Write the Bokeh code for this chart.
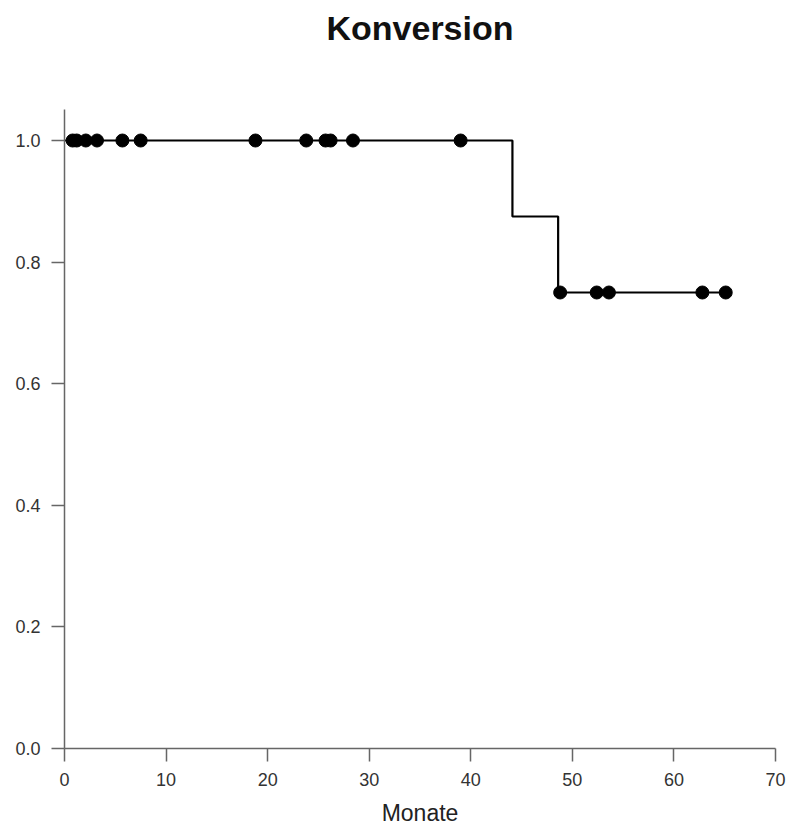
from bokeh.plotting import figure
from bokeh.models import Range1d, FixedTicker, Div
from bokeh.layouts import column
from bokeh.embed import file_html
from bokeh.resources import INLINE

# Kaplan-Meier step curve
step_times = [0.0, 44.1, 48.6, 65.1]
step_surv = [1.0, 0.875, 0.75, 0.75]

# censored observations
cens_times = [0.8, 1.2, 2.1, 3.2, 5.7, 7.5, 18.8, 23.8, 25.7, 26.2, 28.4, 39.0,
              48.8, 52.4, 53.6, 62.8, 65.1]
cens_surv = [1.0, 1.0, 1.0, 1.0, 1.0, 1.0, 1.0, 1.0, 1.0, 1.0, 1.0, 1.0,
             0.75, 0.75, 0.75, 0.75, 0.75]

x_ticks = [0, 10, 20, 30, 40, 50, 60, 70]
y_ticks = [0.0, 0.2, 0.4, 0.6, 0.8, 1.0]
title_text = "Konversion"

title = Div(text=title_text, width=788, height=56, margin=(0, 0, 0, 0),
            styles={"font-family": "Liberation Sans", "font-weight": "bold",
                    "font-size": "34px", "color": "#111111",
                    "text-align": "center", "padding-left": "52px",
                    "box-sizing": "border-box", "line-height": "56px",
                    "width": "788px"})

p = figure(width=788, height=772, output_backend="svg", toolbar_location=None,
           x_range=Range1d(0, 70), y_range=Range1d(0, 1.051),
           min_border_left=64, min_border_right=13, min_border_top=53,
           min_border_bottom=79, margin=(0, 0, 0, 0))

p.step(step_times, step_surv, mode="after", line_color="black", line_width=2.2)
p.scatter(cens_times, cens_surv, size=13, color="black", marker="circle")

p.grid.visible = False
p.outline_line_color = None

for ax in (p.xaxis[0], p.yaxis[0]):
    ax.axis_line_color = "#666666"
    ax.axis_line_width = 1.5
    ax.major_tick_line_color = "#666666"
    ax.major_tick_line_width = 1.5
    ax.major_tick_out = 13
    ax.major_tick_in = 0
    ax.minor_tick_line_color = None
    ax.major_label_text_font = "Liberation Sans"
    ax.major_label_text_font_size = "18px"
    ax.major_label_text_color = "#333333"
    ax.major_label_standoff = 11

p.xaxis.ticker = FixedTicker(ticks=x_ticks)
p.yaxis.ticker = FixedTicker(ticks=y_ticks)
p.yaxis.major_label_overrides = {0.0: "0.0", 0.2: "0.2", 0.4: "0.4", 0.6: "0.6", 0.8: "0.8", 1.0: "1.0"}

p.xaxis.axis_label = "Monate"
p.xaxis.axis_label_text_font = "Liberation Sans"
p.xaxis.axis_label_text_font_style = "normal"
p.xaxis.axis_label_text_font_size = "23px"
p.xaxis.axis_label_text_color = "#222222"
p.xaxis.axis_label_standoff = 11

layout = column(title, p, spacing=0, margin=(0, 0, 0, 0))

open("out.html", "w").write(file_html(layout, INLINE))
